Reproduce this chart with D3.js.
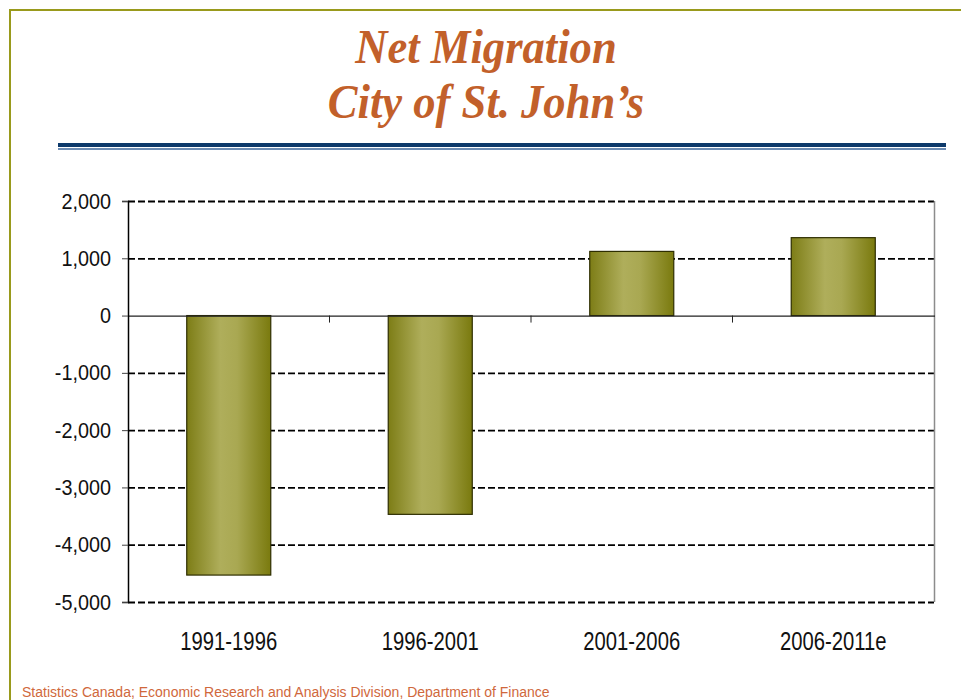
<!DOCTYPE html>
<html>
<head>
<meta charset="utf-8">
<script src="https://cdnjs.cloudflare.com/ajax/libs/d3/7.8.5/d3.min.js"></script>
<style>
  body { margin: 0; background: #fff; }
  svg { display: block; }
</style>
</head>
<body>
<svg id="chart" width="961" height="700"></svg>
<script>
"use strict";

// data
var periods = ["1991-1996", "1996-2001", "2001-2006", "2006-2011e"];
var netMigration = [-4530, -3470, 1120, 1360];
var yTicks = [2000, 1000, 0, -1000, -2000, -3000, -4000, -5000];
var titleLines = ["Net Migration", "City of St. John\u2019s"];
var sourceNote = "Statistics Canada; Economic Research and Analysis Division, Department of Finance";

var svg = d3.select("#chart");
var plotLeft = 128, plotRight = 934, plotTop = 201, plotBottom = 602;

// squeeze text horizontally, the slide uses a condensed face
function condense(sel, k) {
  sel.each(function() {
    var w = this.getComputedTextLength();
    d3.select(this)
      .attr("textLength", w * k)
      .attr("lengthAdjust", "spacingAndGlyphs");
  });
}

// slide frame
svg.append("rect")
  .attr("x", 10).attr("y", 10)
  .attr("width", 970).attr("height", 700)
  .attr("fill", "none")
  .attr("stroke", "#999a1c")
  .attr("stroke-width", 2);

// title
var title = svg.append("g")
  .selectAll("text")
  .data(titleLines)
  .enter()
  .append("text")
  .attr("x", 486)
  .attr("y", function(d, i){ return 63 + i * 55; })
  .attr("text-anchor", "middle")
  .style("font-family", "'Liberation Serif', 'Times New Roman', serif")
  .style("font-style", "italic")
  .style("font-weight", "bold")
  .style("font-size", "49px")
  .attr("fill", "#c2602a")
  .text(function(d){ return d; });
condense(title, 0.91);

// blue rule under the title
svg.append("rect").attr("x", 58).attr("y", 143).attr("width", 888).attr("height", 4).attr("fill", "#0d3a6b");
svg.append("rect").attr("x", 58).attr("y", 148).attr("width", 888).attr("height", 2).attr("fill", "#6d8db4");

var defs = svg.append("defs");
var grad = defs.append("linearGradient")
  .attr("id", "olive")
  .attr("x1", "0%").attr("x2", "100%")
  .attr("y1", "0%").attr("y2", "0%");
grad.append("stop").attr("offset", "0%").attr("stop-color", "#7d7d16");
grad.append("stop").attr("offset", "40%").attr("stop-color", "#afae5b");
grad.append("stop").attr("offset", "60%").attr("stop-color", "#a9a852");
grad.append("stop").attr("offset", "100%").attr("stop-color", "#7a7a0e");

var x = d3.scaleBand()
  .domain(periods)
  .range([plotLeft, plotRight])
  .paddingInner(0.583)
  .paddingOuter(0.2915);

var y = d3.scaleLinear()
  .domain([-5000, 2000])
  .range([plotBottom, plotTop]);

// dashed gridlines
svg.append("g")
  .selectAll("line")
  .data(yTicks.filter(function(t){ return t != 0; }))
  .enter()
  .append("line")
  .attr("x1", plotLeft).attr("x2", plotRight)
  .attr("y1", function(t){ return y(t) + 0.5; })
  .attr("y2", function(t){ return y(t) + 0.5; })
  .attr("stroke", "#000")
  .attr("stroke-width", 1.8)
  .attr("stroke-dasharray", "7,3");

// right border of the plot
svg.append("line")
  .attr("x1", plotRight + 0.5).attr("x2", plotRight + 0.5)
  .attr("y1", y(2000)).attr("y2", y(-5000))
  .attr("stroke", "#8c8c8c")
  .attr("stroke-width", 1.5);

// bars
svg.append("g")
  .selectAll("rect")
  .data(periods)
  .enter()
  .append("rect")
  .attr("x", function(p){ return x(p); })
  .attr("width", x.bandwidth())
  .attr("y", function(p, i){ return y(Math.max(0, netMigration[i])); })
  .attr("height", function(p, i){ return Math.abs(y(netMigration[i]) - y(0)); })
  .attr("fill", "url(#olive)")
  .attr("stroke", "#2e2e00")
  .attr("stroke-width", 1.2);

// zero line and category ticks
svg.append("line")
  .attr("x1", plotLeft).attr("x2", plotRight + 1)
  .attr("y1", y(0) + 0.5).attr("y2", y(0) + 0.5)
  .attr("stroke", "#222")
  .attr("stroke-width", 1.2);

svg.append("g")
  .selectAll("line")
  .data(periods.slice(0, 3))
  .enter()
  .append("line")
  .attr("x1", function(p){ return x(p) + x.bandwidth() / 2 + x.step() / 2; })
  .attr("x2", function(p){ return x(p) + x.bandwidth() / 2 + x.step() / 2; })
  .attr("y1", y(0)).attr("y2", y(0) + 7)
  .attr("stroke", "#222");

// y axis
var yAxis = d3.axisLeft(y)
  .tickValues(yTicks)
  .tickSize(6)
  .tickPadding(11)
  .tickFormat(function(v){ return d3.format(",")(v).replace("\u2212", "-"); });

var yg = svg.append("g")
  .attr("transform", "translate(" + plotLeft + ",0)")
  .call(yAxis);
yg.select(".domain").attr("stroke", "#000").attr("stroke-width", 1.5);
yg.selectAll(".tick line").attr("stroke", "#444");
var yLabels = yg.selectAll(".tick text")
  .attr("fill", "#111")
  .style("font-family", "'Liberation Sans', Arial, sans-serif")
  .style("font-size", "22px");
condense(yLabels, 0.9);

// x labels
var xLabels = svg.append("g")
  .selectAll("text")
  .data(periods)
  .enter()
  .append("text")
  .attr("x", function(p){ return x(p) + x.bandwidth() / 2; })
  .attr("y", 650)
  .attr("text-anchor", "middle")
  .attr("fill", "#111")
  .style("font-family", "'Liberation Sans', Arial, sans-serif")
  .style("font-size", "25px")
  .text(function(p){ return p; });
condense(xLabels, 0.81);

// source line
svg.append("text")
  .attr("x", 22)
  .attr("y", 697)
  .attr("fill", "#d0683c")
  .style("font-family", "'Liberation Sans', Arial, sans-serif")
  .style("font-size", "14px")
  .text(sourceNote);
</script>
</body>
</html>
